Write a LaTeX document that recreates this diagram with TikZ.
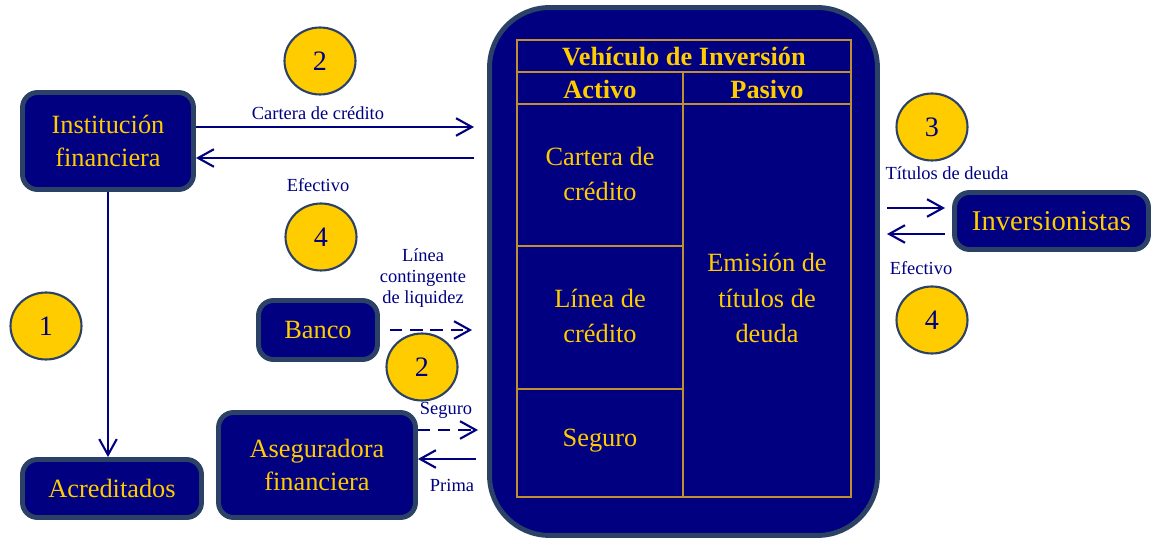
\documentclass[tikz,border=0pt]{standalone}
\usepackage{fontspec}
\setmainfont{Liberation Serif}
\usepackage{tikz}
\usetikzlibrary{calc}
\usetikzlibrary{arrows.meta}
\usetikzlibrary{shapes.geometric}
\usetikzlibrary{positioning}
\definecolor{azul}{HTML}{000080}
\definecolor{borde}{HTML}{2B4266}
\definecolor{oro}{HTML}{FFCC00}
\definecolor{linea}{HTML}{C09030}
\tikzset{caja/.style={rectangle,rounded corners=0.3cm,draw=borde,line width=2.8pt,fill=azul,text=oro,align=center,inner sep=0pt,font=\fontsize{15}{19.3}\selectfont}}
\tikzset{num/.style={ellipse,draw=borde,line width=1.2pt,fill=oro,text=azul,inner sep=0pt,minimum width=1.42cm,minimum height=1.34cm,font=\fontsize{16}{19}\selectfont}}
\tikzset{flujo/.style={draw=azul,line width=1.2pt,-{Straight Barb[length=9pt,width=10pt]}}}
\tikzset{etiqueta/.style={text=azul,align=center,inner sep=0pt,font=\fontsize{10.5}{12.2}\selectfont}}
\tikzset{celda/.style={text=oro,align=center,inner sep=0pt,font=\fontsize{15}{19.8}\selectfont}}
\tikzset{tabla/.style={draw=linea,line width=0.8pt}}

\begin{document}
\begin{tikzpicture}[x=0.02cm,y=-0.02cm]
\useasboundingbox (0,0) rectangle (1153,540);

% vehiculo
\node[caja,rounded corners=1.2cm,minimum width=7.76cm,minimum height=10.56cm] (vehiculo) at (683.5,271.5) {};
\draw[tabla] (517,40) rectangle (851,497);
\draw[tabla] (517,72) -- (851,72);
\draw[tabla] (517,104) -- (851,104);
\draw[tabla] (683,72) -- (683,497);
\draw[tabla] (517,246) -- (683,246);
\draw[tabla] (517,389) -- (683,389);
\node[celda,font=\fontsize{15}{18}\selectfont\bfseries] (titulo) at (684,57) {Vehículo de Inversión};
\node[celda,font=\fontsize{15}{18}\selectfont\bfseries] (activo) at (600,89) {Activo};
\node[celda,font=\fontsize{15}{18}\selectfont\bfseries] (pasivo) at (767,89) {Pasivo};
\node[celda] (cartera) at (600,174) {Cartera de\\crédito};
\node[celda] (linea) at (600,316) {Línea de\\crédito};
\node[celda] (seguro) at (600,441) {Seguro};
\node[celda,font=\fontsize{15}{20.2}\selectfont] (emision) at (767,298) {Emisión de\\títulos de\\deuda};

% participantes
\node[caja,minimum width=3.42cm,minimum height=1.94cm] (inst) at (108,141) {Institución\\financiera};
\node[caja,minimum width=3.58cm,minimum height=1.16cm] (acred) at (112,488.5) {Acreditados};
\node[caja,minimum width=2.38cm,minimum height=1.18cm] (banco) at (318,330) {Banco};
\node[caja,minimum width=3.94cm,minimum height=2.10cm] (aseg) at (317,465) {Aseguradora\\financiera};
\node[caja,minimum width=3.88cm,minimum height=1.14cm,font=\fontsize{16.3}{19.3}\selectfont] (inver) at (1051.5,221) {Inversionistas};

% flujos
\coordinate (c1) at (474,127);
\coordinate (e1) at (474,158);
\coordinate (b0) at (390,330);
\coordinate (b1) at (472,330);
\coordinate (s1) at (478,430);
\coordinate (p1) at (476,459);
\coordinate (t0) at (887,208);
\coordinate (t1) at (945,208);
\coordinate (f0) at (945,234);
\coordinate (f1) at (887,234);

\draw[flujo] (inst.east |- c1) -- (c1);
\draw[flujo] (e1) -- (inst.east |- e1);
\draw[flujo] (inst.south) -- (inst.south |- acred.north);
\draw[flujo,dash pattern=on 7pt off 4.5pt] (b0) -- (b1);
\draw[flujo,dash pattern=on 7pt off 4.5pt] (aseg.east |- s1) -- (s1);
\draw[flujo] (p1) -- (aseg.east |- p1);
\draw[flujo] (t0) -- (t1);
\draw[flujo] (f0) -- (f1);

\node[etiqueta] (lcartera) at (318,113) {Cartera de crédito};
\node[etiqueta] (lefectivo) at (318,185) {Efectivo};
\node[etiqueta] (llinea) at (423,278) {Línea\\contingente\\de liquidez};
\node[etiqueta] (lseguro) at (446,410) {Seguro};
\node[etiqueta] (lprima) at (452,485) {Prima};
\node[etiqueta] (ltitulos) at (947,173) {Títulos de deuda};
\node[etiqueta] (lefectivo2) at (921,268) {Efectivo};

% pasos
\node[num] (n2a) at (320,61) {2};
\node[num] (n4a) at (321,237) {4};
\node[num] (n1) at (46,326) {1};
\node[num] (n3) at (932,127) {3};
\node[num] (n4b) at (932,320) {4};
\node[num] (n2b) at (422,367) {2};

\end{tikzpicture}
\end{document}
